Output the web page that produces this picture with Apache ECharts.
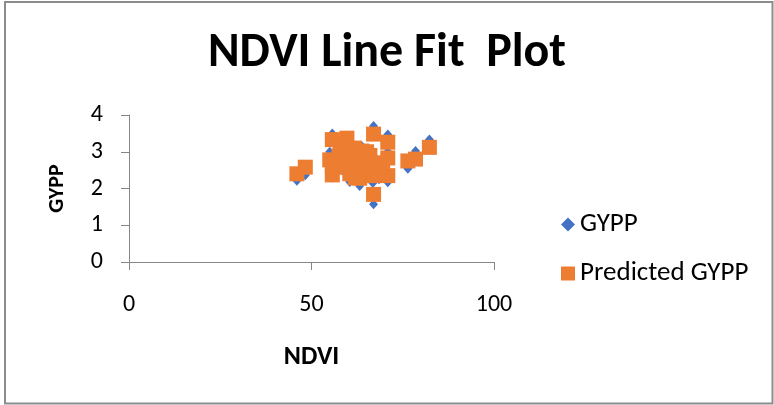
<!DOCTYPE html>
<html>
<head>
<meta charset="utf-8">
<script src="https://cdn.jsdelivr.net/npm/echarts@6/dist/echarts.min.js"></script>
<style>
html,body{margin:0;padding:0;background:#fff;}
#chart{width:774px;height:405px;}
</style>
</head>
<body>
<div id="chart"></div>
<script>
const titleText = 'NDVI Line Fit  Plot';
const xAxisName = 'NDVI';
const yAxisName = 'GYPP';
const seriesNames = ['GYPP', 'Predicted GYPP'];
const ndvi =          [46.0, 48.3, 55.7, 59.7, 55.0, 57.5, 59.6, 55.7, 58.4, 60.5, 62.0, 63.2, 63.8, 65.1, 63.0, 66.8, 66.8, 67.0, 70.9, 70.9, 70.9, 67.0, 68.5, 61.5, 76.4, 78.5, 82.3, 69.0, 55.7, 57.8, 61.8, 64.5, 69.5, 66.0, 62.5];
const gypp =          [2.21, 2.36, 3.50, 3.40, 3.00, 2.70, 3.10, 2.30, 2.50, 2.18, 2.40, 2.07, 3.15, 2.80, 2.70, 2.15, 2.60, 3.70, 3.47, 3.00, 2.17, 1.57, 2.25, 2.85, 2.54, 3.02, 3.33, 2.60, 2.55, 3.25, 3.05, 2.40, 2.75, 2.95, 2.50];
const predictedGypp = [2.40, 2.58, 3.33, 3.37, 2.78, 2.88, 2.98, 2.37, 2.58, 2.40, 2.29, 2.28, 3.02, 3.00, 2.70, 2.35, 2.50, 3.48, 3.26, 2.83, 2.35, 1.84, 2.40, 2.75, 2.75, 2.80, 3.12, 2.60, 2.60, 3.20, 3.10, 2.50, 2.70, 2.90, 2.55];
const xTicks = {min: 0, max: 100, interval: 50};
const yTicks = {min: 0, max: 4, interval: 1};

const FONT = 'Carlito, Lato, sans-serif';
const axisColor = '#868686';

const chart = echarts.init(document.getElementById('chart'), null, {renderer: 'canvas'});
chart.setOption({
  animation: false,
  backgroundColor: '#ffffff',
  title: {
    text: titleText,
    left: 'center',
    top: 30,
    padding: [0, 0, 0, 18],
    textStyle: {fontFamily: FONT, fontSize: 48, fontWeight: 'bold', color: '#000'}
  },
  graphic: [{
    type: 'rect',
    shape: {x: 5, y: 2, width: 767.5, height: 401.5},
    style: {fill: null, stroke: '#8c8c8c', lineWidth: 2},
    silent: true
  }],
  legend: {
    orient: 'vertical',
    left: 556,
    top: 206,
    itemWidth: 14,
    itemHeight: 14,
    itemGap: 22,
    textStyle: {fontFamily: FONT, fontSize: 27, color: '#000'},
    data: [
      {name: seriesNames[0], icon: 'diamond'},
      {name: seriesNames[1], icon: 'rect'}
    ]
  },
  grid: {left: 129, top: 115, width: 365, height: 147},
  xAxis: {
    type: 'value',
    min: xTicks.min, max: xTicks.max, interval: xTicks.interval,
    name: xAxisName,
    nameLocation: 'middle',
    nameGap: 82,
    nameTextStyle: {fontFamily: FONT, fontSize: 26, fontWeight: 'bold', color: '#000'},
    axisLine: {show: true, onZero: false, lineStyle: {color: axisColor, width: 1}},
    axisTick: {show: true, length: 8, lineStyle: {color: axisColor}},
    axisLabel: {margin: 31, fontFamily: FONT, fontSize: 24, color: '#000'},
    splitLine: {show: false}
  },
  yAxis: {
    type: 'value',
    min: yTicks.min, max: yTicks.max, interval: yTicks.interval,
    name: yAxisName,
    nameLocation: 'middle',
    nameRotate: 90,
    nameGap: 61,
    nameTextStyle: {fontFamily: FONT, fontSize: 22, fontWeight: 'bold', color: '#000'},
    axisLine: {show: true, onZero: false, lineStyle: {color: axisColor, width: 1}},
    axisTick: {show: true, length: 8, lineStyle: {color: axisColor}},
    axisLabel: {margin: 26, fontFamily: FONT, fontSize: 24, color: '#000'},
    splitLine: {show: false}
  },
  series: [
    {
      name: seriesNames[0],
      type: 'scatter',
      symbol: 'diamond',
      symbolSize: [9, 10],
      itemStyle: {color: '#4472C4', opacity: 1},
      data: ndvi.map((x, i) => [x, gypp[i]])
    },
    {
      name: seriesNames[1],
      type: 'scatter',
      symbol: 'rect',
      symbolSize: 15,
      itemStyle: {color: '#ED7D31', opacity: 1},
      data: ndvi.map((x, i) => [x, predictedGypp[i]])
    }
  ]
});
</script>
</body>
</html>
